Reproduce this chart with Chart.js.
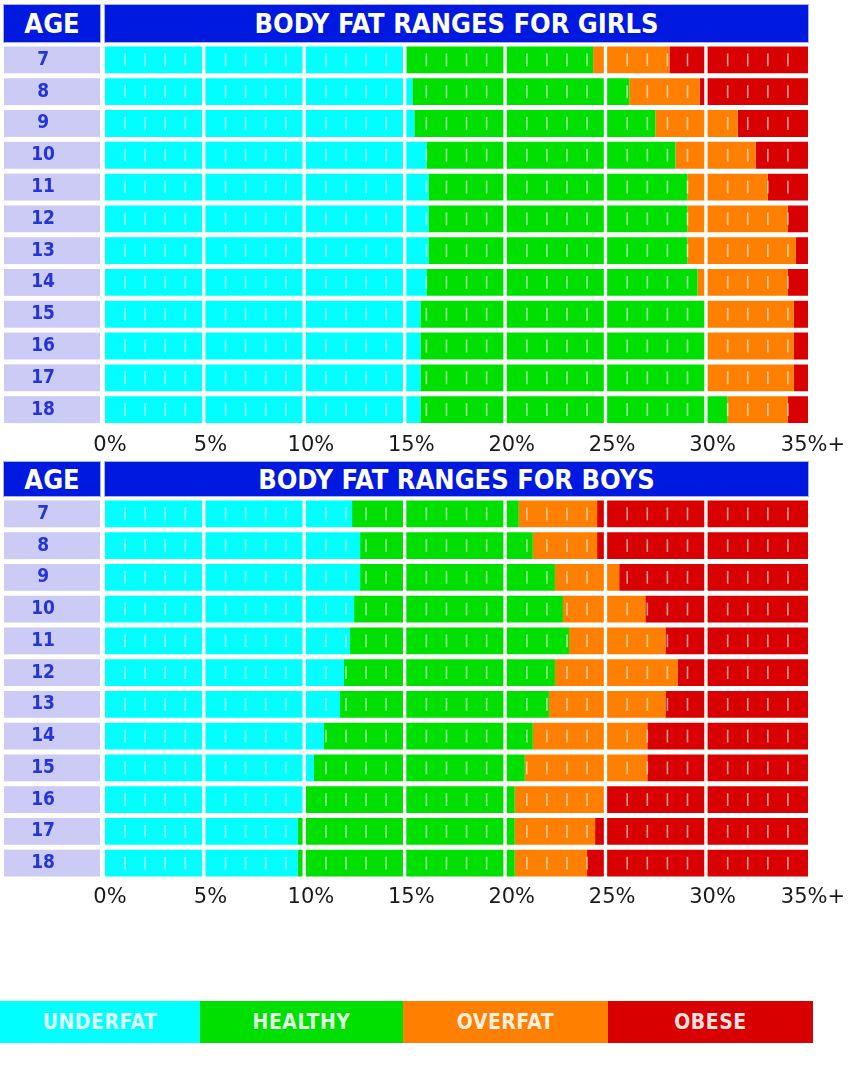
<!DOCTYPE html>
<html>
<head>
<meta charset="utf-8">
<script src="https://cdn.jsdelivr.net/npm/chart.js@4/dist/chart.umd.min.js"></script>
<style>
  body { margin: 0; background: #fff; width: 861px; height: 1073px; position: relative; overflow: hidden;
         font-family: "DejaVu Sans Condensed", "DejaVu Sans", sans-serif; }
  .hdr { position: absolute; background: #0019e0; color: #fff; font-weight: bold; font-size: 27px;
         display: flex; align-items: center; justify-content: center; box-shadow: 0 0 0 1px #a8b0f0; }
  .wrap { position: absolute; left: 0; width: 861px; height: 460px; }
  .legend { position: absolute; top: 1001px; height: 42px; color: rgba(255,255,255,0.9); font-weight: bold;
            font-size: 21px; display: flex; align-items: center; justify-content: center; letter-spacing: 0.5px; }
</style>
</head>
<body>
<div class="hdr" style="left:4px;top:5px;width:96px;height:37px">AGE</div>
<div class="hdr" style="left:105px;top:5px;width:703px;height:37px">BODY FAT RANGES FOR GIRLS</div>
<div class="wrap" style="top:0"><canvas id="girlsChart"></canvas></div>

<div class="hdr" style="left:4px;top:462px;width:96px;height:34px">AGE</div>
<div class="hdr" style="left:105px;top:462px;width:703px;height:34px">BODY FAT RANGES FOR BOYS</div>
<div class="wrap" style="top:460px"><canvas id="boysChart"></canvas></div>

<div class="legend" style="left:0;width:200px;background:#00ffff">UNDERFAT</div>
<div class="legend" style="left:200px;width:203px;background:#00e000">HEALTHY</div>
<div class="legend" style="left:403px;width:205px;background:#ff8000">OVERFAT</div>
<div class="legend" style="left:608px;width:205px;background:#d80000">OBESE</div>

<script>
// Ages shown on each chart
const ages = ['7', '8', '9', '10', '11', '12', '13', '14', '15', '16', '17', '18'];
const tickLabels = ['0%', '5%', '10%', '15%', '20%', '25%', '30%', '35%+'];
const scaleMax = 35;

// Girls: % body fat where each range begins
const girlsHealthyFrom = [15.0, 15.3, 15.4, 16.0, 16.1, 16.1, 16.1, 16.0, 15.7, 15.7, 15.7, 15.7];
const girlsOverfatFrom = [24.3, 26.1, 27.4, 28.4, 29.0, 29.0, 29.0, 29.5, 30.0, 30.0, 30.0, 31.0];
const girlsObeseFrom   = [28.1, 29.6, 31.5, 32.4, 33.0, 34.0, 34.4, 34.0, 34.3, 34.3, 34.3, 34.0];

// Boys: % body fat where each range begins
const boysHealthyFrom = [12.3, 12.7, 12.7, 12.4, 12.2, 11.9, 11.7, 10.9, 10.4, 10.0, 9.6, 9.6];
const boysOverfatFrom = [20.6, 21.3, 22.4, 22.8, 23.1, 22.4, 22.1, 21.3, 20.9, 20.4, 20.4, 20.4];
const boysObeseFrom   = [24.5, 24.5, 25.6, 26.9, 27.9, 28.5, 27.9, 27.0, 27.0, 24.9, 24.4, 24.0];

const colors = { under: '#00ffff', healthy: '#00e000', over: '#ff8000', obese: '#d80000' };

// draws the lavender age cells, the white 5% gaps and the faint 1% ticks
const decorPlugin = {
    id: 'decor',
    beforeDraw(chart) {
        const { ctx } = chart;
        const meta = chart.getDatasetMeta(0);
        ctx.save();
        ctx.fillStyle = '#cbcbf5';
        meta.data.forEach(bar => {
            ctx.fillRect(4, bar.y - bar.height / 2, 96, bar.height);
        });
        ctx.restore();
    },
    afterDatasetsDraw(chart) {
        const { ctx, chartArea } = chart;
        const x = chart.scales.x;
        const meta = chart.getDatasetMeta(0);
        ctx.save();
        for (let v = 1; v < scaleMax; v++) {
            const px = x.getPixelForValue(v);
            if (v % 5 === 0) {
                ctx.fillStyle = '#ffffff';
                ctx.fillRect(px - 3.3, chartArea.top, 3.3, chartArea.bottom - chartArea.top);
            } else {
                ctx.fillStyle = 'rgba(255,255,255,0.6)';
                meta.data.forEach(bar => {
                    const top = bar.y - bar.height / 2 + 7;
                    ctx.fillRect(px - 0.8, top, 1.6, bar.height - 14);
                });
            }
        }
        ctx.restore();
    }
};

function makeChart(id, healthyFrom, overfatFrom, obeseFrom, areaTop, areaHeight, labelPad) {
    const ranges = (starts, ends) => starts.map((s, i) => [s, ends[i]]);
    const zeros = ages.map(() => 0);
    const ends = ages.map(() => scaleMax);
    const ds = (label, data, color) => ({
        label, data, backgroundColor: color, borderWidth: 0, borderSkipped: false,
        grouped: false, categoryPercentage: 1, barPercentage: 0.845
    });

    return new Chart(document.getElementById(id), {
        type: 'bar',
        data: {
            labels: ages,
            datasets: [
                ds('Underfat', ranges(zeros, healthyFrom), colors.under),
                ds('Healthy', ranges(healthyFrom, overfatFrom), colors.healthy),
                ds('Overfat', ranges(overfatFrom, obeseFrom), colors.over),
                ds('Obese', ranges(obeseFrom, ends), colors.obese)
            ]
        },
        options: {
            indexAxis: 'y',
            responsive: true,
            maintainAspectRatio: false,
            animation: false,
            layout: { autoPadding: false, padding: { top: areaTop, right: 53, left: 0, bottom: 0 } },
            plugins: { legend: { display: false }, tooltip: { enabled: false } },
            scales: {
                x: {
                    min: 0,
                    max: scaleMax,
                    grid: { display: false },
                    border: { display: false },
                    afterFit(scale) { scale.height = 460 - areaTop - areaHeight; },
                    ticks: {
                        stepSize: 5,
                        padding: labelPad,
                        labelOffset: 5,
                        color: '#1a1a1a',
                        font: { family: 'DejaVu Sans', size: 21 },
                        callback: (v) => tickLabels[v / 5]
                    }
                },
                y: {
                    grid: { display: false },
                    border: { display: false },
                    afterFit(scale) {
                        scale.width = 105;
                        // the wide label padding only centres the ages in their cells
                        scale.paddingTop = 0;
                        scale.paddingBottom = 0;
                    },
                    ticks: {
                        crossAlign: 'center',
                        padding: 42,
                        color: '#2436d8',
                        font: { family: 'DejaVu Sans Condensed', size: 19, weight: 'bold' }
                    }
                }
            }
        },
        plugins: [decorPlugin]
    });
}

makeChart('girlsChart', girlsHealthyFrom, girlsOverfatFrom, girlsObeseFrom, 44, 381.5, -1);
makeChart('boysChart', boysHealthyFrom, boysOverfatFrom, boysObeseFrom, 38, 381, -2);
</script>
</body>
</html>
